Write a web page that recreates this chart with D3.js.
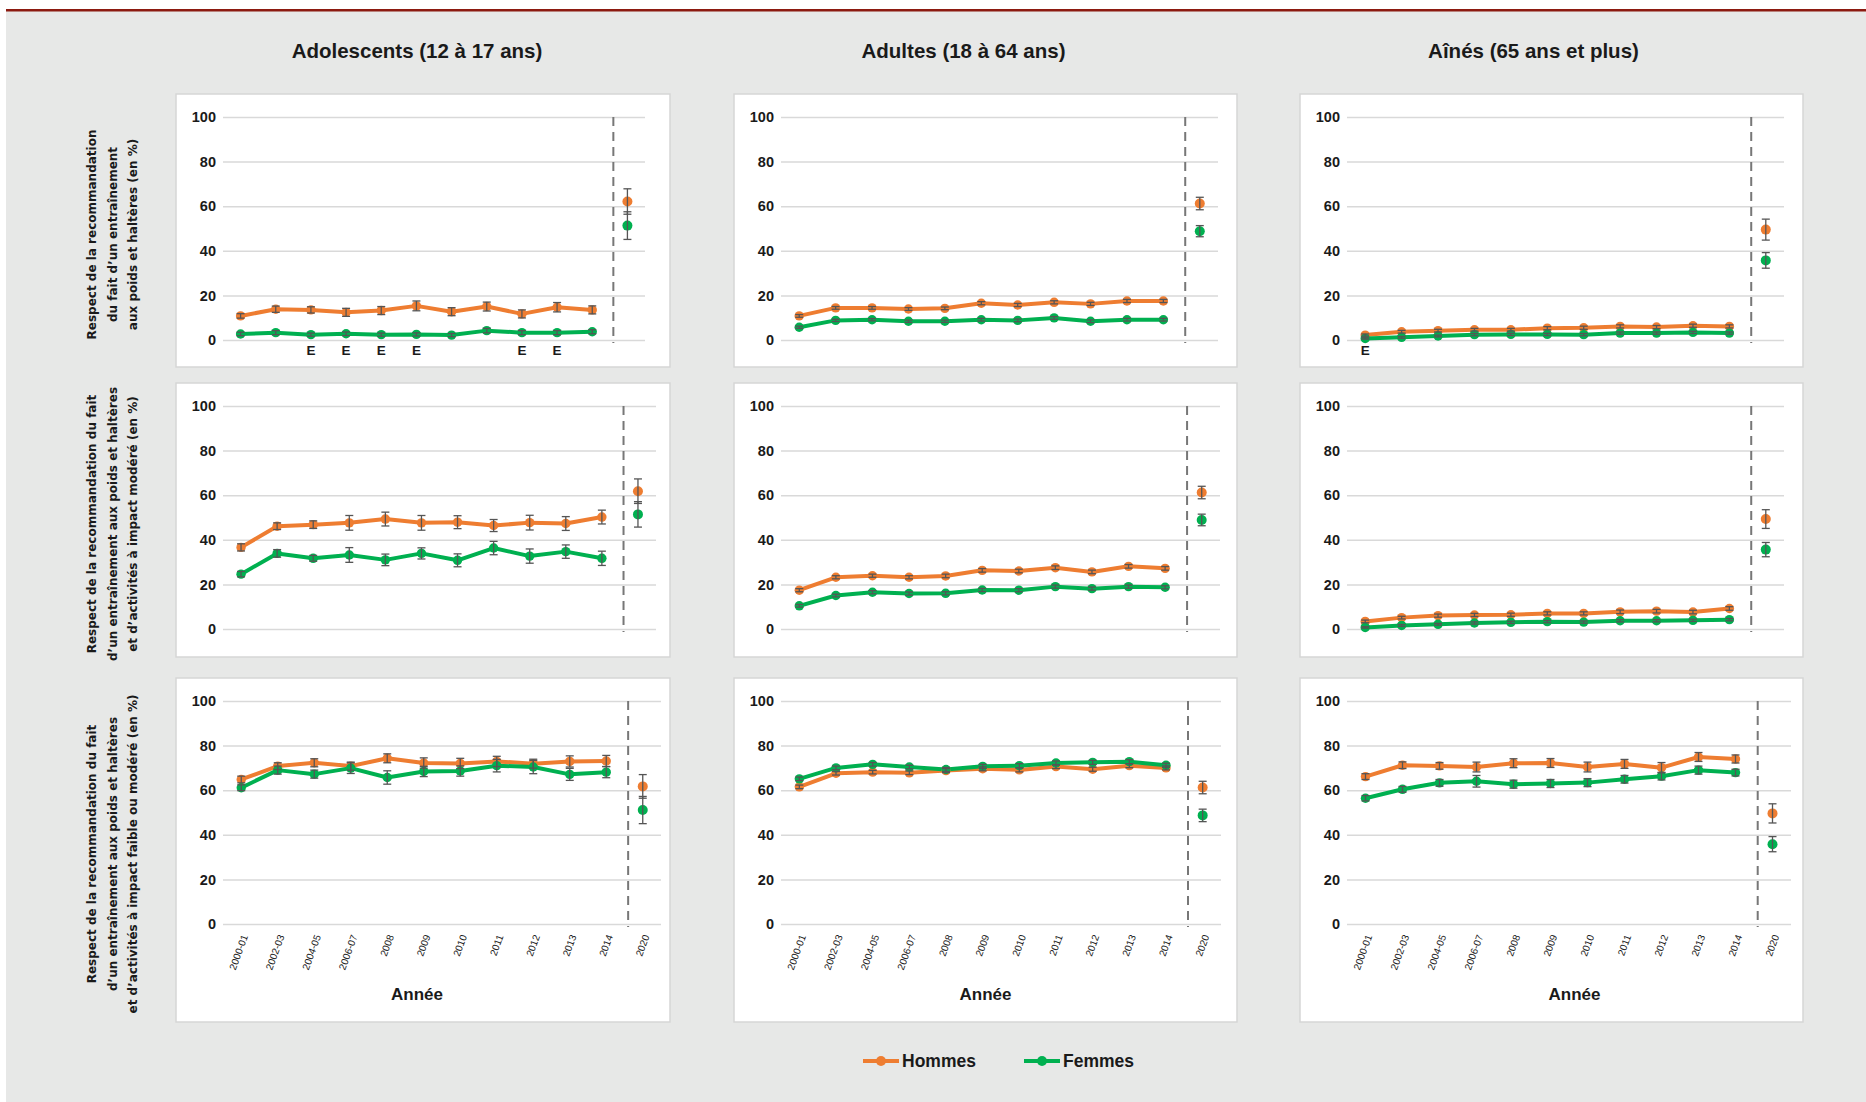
<!DOCTYPE html>
<html>
<head>
<meta charset="utf-8">
<script src="https://cdn.jsdelivr.net/npm/d3@7"></script>
<style>
  body { margin: 0; background: #fff; }
  svg text { font-family: "Liberation Sans", Arial, sans-serif; }
</style>
</head>
<body>
<svg id="chart" width="1866" height="1102"></svg>
<script>
// catégories
const years = ["2000-01", "2002-03", "2004-05", "2006-07", "2008", "2009", "2010", "2011", "2012", "2013", "2014", "2020"];
const groups = ["Adolescents (12 à 17 ans)", "Adultes (18 à 64 ans)", "Aînés (65 ans et plus)"];
const yTitles = [
  ["Respect de la recommandation", "du fait d’un entraînement", "aux poids et haltères (en %)"],
  ["Respect de la recommandation du fait", "d’un entraînement aux poids et haltères", "et d’activités à impact modéré (en %)"],
  ["Respect de la recommandation du fait", "d’un entraînement aux poids et haltères", "et d’activités à impact faible ou modéré (en %)"]
];
const yTicks = [0, 20, 40, 60, 80, 100];
const legendNames = ["Hommes", "Femmes"];

// adolescents
const adoPoidsH = [10.8, 13.8, 13.5, 12.4, 13.2, 15.3, 12.7, 15.0, 11.7, 14.7, 13.5, 62.1];
const adoPoidsHErr = [1.0, 1.4, 1.4, 1.8, 1.8, 2.2, 1.8, 2.0, 1.8, 2.1, 1.8, 5.7];
const adoPoidsF = [2.7, 3.3, 2.4, 2.8, 2.4, 2.5, 2.2, 4.2, 3.3, 3.3, 3.7, 51.3];
const adoPoidsFErr = [0.8, 0.9, 0.7, 0.8, 0.7, 0.7, 0.7, 1.0, 0.9, 0.9, 0.9, 6.2];
const adoPoidsFE = [0, 0, 1, 1, 1, 1, 0, 0, 1, 1, 0, 0];

const adoModH = [36.6, 46.1, 46.8, 47.6, 49.3, 47.6, 47.9, 46.4, 47.7, 47.3, 50.2, 61.8];
const adoModHErr = [1.6, 1.5, 1.7, 3.3, 3.1, 3.3, 2.9, 2.7, 3.3, 3.1, 3.1, 5.5];
const adoModF = [24.6, 33.9, 31.7, 33.2, 31.0, 33.9, 30.8, 36.3, 32.7, 34.7, 31.7, 51.4];
const adoModFErr = [1.2, 1.7, 1.3, 3.3, 2.6, 2.5, 2.9, 3.0, 3.2, 3.0, 3.2, 5.7];

const adoFaibleH = [64.8, 70.8, 72.3, 70.8, 74.3, 72.2, 72.0, 72.9, 71.9, 72.9, 73.1, 61.7];
const adoFaibleHErr = [1.5, 1.5, 1.8, 1.8, 2.0, 2.3, 2.3, 2.3, 2.0, 2.5, 2.5, 5.3];
const adoFaibleF = [61.1, 69.0, 67.2, 69.9, 65.7, 68.4, 68.6, 71.0, 70.4, 67.1, 68.1, 51.1];
const adoFaibleFErr = [1.3, 1.8, 1.8, 2.4, 3.0, 2.3, 2.3, 2.8, 3.0, 2.7, 2.5, 6.1];

// adultes
const aduPoidsH = [10.8, 14.4, 14.4, 13.9, 14.2, 16.5, 15.7, 16.9, 16.2, 17.5, 17.5, 61.2];
const aduPoidsHErr = [0.6, 0.6, 0.6, 0.6, 0.6, 0.7, 0.7, 0.7, 0.7, 0.7, 0.7, 2.8];
const aduPoidsF = [5.7, 8.8, 9.1, 8.4, 8.4, 9.1, 8.8, 9.9, 8.4, 9.1, 9.1, 48.8];
const aduPoidsFErr = [0.5, 0.5, 0.5, 0.5, 0.5, 0.6, 0.6, 0.6, 0.6, 0.6, 0.6, 2.5];

const aduModH = [17.4, 23.2, 23.9, 23.2, 23.8, 26.3, 26.0, 27.5, 25.6, 28.1, 27.2, 61.2];
const aduModHErr = [0.7, 0.7, 0.7, 0.7, 0.8, 0.8, 0.8, 0.8, 0.8, 0.8, 0.8, 2.8];
const aduModF = [10.4, 15.0, 16.5, 15.9, 16.0, 17.5, 17.4, 19.0, 18.1, 19.0, 18.7, 48.9];
const aduModFErr = [0.6, 0.6, 0.7, 0.7, 0.7, 0.7, 0.7, 0.7, 0.7, 0.7, 0.7, 2.6];

const aduFaibleH = [61.5, 67.6, 68.1, 67.8, 68.8, 69.6, 69.1, 70.6, 69.4, 71.0, 70.0, 61.2];
const aduFaibleHErr = [0.8, 0.8, 0.8, 0.8, 0.9, 0.9, 0.9, 0.9, 0.9, 0.9, 0.9, 2.8];
const aduFaibleF = [65.1, 70.0, 71.6, 70.4, 69.3, 70.7, 71.0, 72.2, 72.5, 72.8, 71.2, 48.7];
const aduFaibleFErr = [0.8, 0.8, 0.8, 0.8, 0.9, 0.9, 0.9, 0.9, 0.9, 0.9, 0.9, 2.8];

// aînés
const ainPoidsH = [2.2, 3.7, 4.2, 4.6, 4.6, 5.3, 5.5, 6.1, 5.8, 6.4, 6.1, 49.5];
const ainPoidsHErr = [0.5, 0.6, 0.6, 0.6, 0.6, 0.7, 0.7, 0.7, 0.7, 0.7, 0.7, 4.7];
const ainPoidsF = [0.7, 1.2, 1.8, 2.4, 2.5, 2.5, 2.4, 3.1, 3.1, 3.4, 3.1, 35.7];
const ainPoidsFErr = [0.3, 0.4, 0.4, 0.5, 0.5, 0.5, 0.5, 0.5, 0.5, 0.5, 0.5, 3.5];
const ainPoidsFE = [1, 0, 0, 0, 0, 0, 0, 0, 0, 0, 0, 0];

const ainModH = [3.4, 5.1, 6.0, 6.3, 6.4, 7.0, 7.0, 7.7, 8.0, 7.6, 9.2, 49.3];
const ainModHErr = [0.6, 0.6, 0.7, 0.7, 0.7, 0.7, 0.7, 0.8, 0.8, 0.8, 0.8, 4.2];
const ainModF = [0.7, 1.6, 2.1, 2.7, 3.0, 3.3, 3.1, 3.7, 3.7, 3.9, 4.2, 35.6];
const ainModFErr = [0.3, 0.4, 0.4, 0.5, 0.5, 0.5, 0.5, 0.5, 0.5, 0.5, 0.5, 3.2];

const ainFaibleH = [66.1, 71.2, 70.9, 70.4, 72.1, 72.2, 70.4, 71.8, 70.1, 74.9, 74.0, 49.6];
const ainFaibleHErr = [1.3, 1.5, 1.5, 2.2, 2.0, 2.0, 2.2, 2.0, 2.3, 2.0, 1.8, 4.3];
const ainFaibleF = [56.4, 60.4, 63.3, 64.0, 62.7, 63.0, 63.4, 64.9, 66.3, 69.0, 67.9, 35.8];
const ainFaibleFErr = [1.2, 1.3, 1.5, 2.6, 1.8, 1.8, 1.8, 1.7, 1.7, 1.8, 1.5, 3.4];

const colors = { H: "#ee7d31", F: "#00b050" };

// table des panneaux : [ligne][colonne]
const panels = [
  [
    { h: adoPoidsH, hErr: adoPoidsHErr, f: adoPoidsF, fErr: adoPoidsFErr, fE: adoPoidsFE },
    { h: aduPoidsH, hErr: aduPoidsHErr, f: aduPoidsF, fErr: aduPoidsFErr },
    { h: ainPoidsH, hErr: ainPoidsHErr, f: ainPoidsF, fErr: ainPoidsFErr, fE: ainPoidsFE }
  ],
  [
    { h: adoModH, hErr: adoModHErr, f: adoModF, fErr: adoModFErr },
    { h: aduModH, hErr: aduModHErr, f: aduModF, fErr: aduModFErr },
    { h: ainModH, hErr: ainModHErr, f: ainModF, fErr: ainModFErr }
  ],
  [
    { h: adoFaibleH, hErr: adoFaibleHErr, f: adoFaibleF, fErr: adoFaibleFErr },
    { h: aduFaibleH, hErr: aduFaibleHErr, f: aduFaibleF, fErr: aduFaibleFErr },
    { h: ainFaibleH, hErr: ainFaibleHErr, f: ainFaibleF, fErr: ainFaibleFErr }
  ]
];

const W = 1866, H = 1102;
const colX = [[176, 670], [734, 1237], [1300, 1803]];
const rowY = [[94, 367], [383, 657], [678, 1022]];
// marge droite de la zone de tracé, par panneau
const rightPad = [[25, 19, 19], [14, 17, 19], [9, 16, 12]];
const titleDx = [-6, -22, -18];
const anneeDx = [-6, 0, 23];

const svg = d3.select("#chart");

svg.append("rect").attr("x", 6).attr("y", 11).attr("width", W - 6).attr("height", H - 11).attr("fill", "#e7e8e7");
svg.append("rect").attr("x", 6).attr("y", 9).attr("width", W - 6).attr("height", 2.5).attr("fill", "#8c1a10");

// titres de colonnes
groups.forEach((t, c) => {
  svg.append("text")
    .attr("x", (colX[c][0] + colX[c][1]) / 2 + titleDx[c])
    .attr("y", 58)
    .attr("text-anchor", "middle")
    .attr("font-size", 20.5)
    .attr("font-weight", "bold")
    .attr("fill", "#1a1a1a")
    .text(t);
});

// titres de l'axe y
yTitles.forEach((lines, r) => {
  const cy = (rowY[r][0] + rowY[r][1]) / 2 + 4;
  const t = svg.append("text")
    .attr("transform", `translate(92,${cy}) rotate(-90)`)
    .attr("text-anchor", "middle")
    .attr("font-size", 12)
    .attr("font-weight", "bold")
    .attr("fill", "#1a1a1a")
    .style("font-family", "'DejaVu Sans', sans-serif");
  lines.forEach((l, i) => {
    t.append("tspan").attr("x", 0).attr("y", i * 20.5 + 4).text(l);
  });
});

function drawPanel(p, r, c) {
  const px = colX[c][0], pw = colX[c][1] - px;
  const py = rowY[r][0], ph = rowY[r][1] - py;
  const g = svg.append("g");

  g.append("rect")
    .attr("x", px).attr("y", py).attr("width", pw).attr("height", ph)
    .attr("fill", "#fff").attr("stroke", "#d6d6d6").attr("stroke-width", 1.5);

  const x = d3.scalePoint().domain(years).range([px + 47, px + pw - rightPad[r][c]]).padding(0.5);
  const y = d3.scaleLinear().domain([0, 100]).range([py + 23 + 223, py + 23]);
  const [gx0, gx1] = x.range();

  const yAxis = d3.axisLeft(y).tickValues(yTicks).tickSize(-(gx1 - gx0)).tickPadding(7);
  const ga = g.append("g").attr("transform", `translate(${gx0},0)`).call(yAxis);
  ga.select(".domain").remove();
  ga.selectAll(".tick line").attr("stroke", "#d9d9d9").attr("stroke-width", 1.5);
  ga.selectAll(".tick text")
    .attr("font-size", 14.5).attr("font-weight", "bold").attr("fill", "#1a1a1a")
    .style("font-family", "'Liberation Sans', Arial, sans-serif");

  if (r === 2) {
    const xAxis = d3.axisBottom(x).tickSize(0);
    const gb = g.append("g").attr("transform", `translate(0,${y(0)})`).call(xAxis);
    gb.select(".domain").remove();
    gb.selectAll(".tick text")
      .attr("y", 0).attr("dy", "0.35em")
      .attr("text-anchor", "end")
      .attr("transform", "translate(3,11) rotate(-70)")
      .attr("font-size", 10).attr("fill", "#222")
      .style("font-family", "'Liberation Sans', Arial, sans-serif");
    g.append("text")
      .attr("x", px + pw / 2 + anneeDx[c]).attr("y", 1000)
      .attr("text-anchor", "middle")
      .attr("font-size", 17).attr("font-weight", "bold").attr("fill", "#1a1a1a")
      .text("Année");
  }

  // ligne pointillée avant 2020
  const dx = x("2014") + x.step() * 0.6;
  g.append("line")
    .attr("x1", dx).attr("x2", dx)
    .attr("y1", y(100)).attr("y2", y(0) + 3)
    .attr("stroke", "#777").attr("stroke-width", 2)
    .attr("stroke-dasharray", "9,6");

  const line = d3.line().x((d, i) => x(years[i])).y(d => y(d));
  const series = [
    { key: "H", v: p.h, e: p.hErr },
    { key: "F", v: p.f, e: p.fErr }
  ];

  series.forEach(s => {
    g.append("path")
      .datum(s.v.slice(0, 11))
      .attr("fill", "none")
      .attr("stroke", colors[s.key])
      .attr("stroke-width", 4)
      .attr("stroke-linejoin", "round")
      .attr("d", line);
  });

  series.forEach(s => {
    g.selectAll(null)
      .data(s.v)
      .join("circle")
      .attr("cx", (d, i) => x(years[i]))
      .attr("cy", d => y(d))
      .attr("r", (d, i) => i === 11 ? 5 : 4.7)
      .attr("fill", colors[s.key]);
  });

  series.forEach(s => {
    const eb = g.selectAll(null)
      .data(s.v.map((d, i) => ({ x: x(years[i]), lo: y(d - s.e[i]), hi: y(d + s.e[i]) })))
      .join("g")
      .attr("stroke", "#555")
      .attr("stroke-width", 1.3);
    eb.append("line").attr("x1", d => d.x).attr("x2", d => d.x).attr("y1", d => d.lo).attr("y2", d => d.hi);
    eb.append("line").attr("x1", d => d.x - 4).attr("x2", d => d.x + 4).attr("y1", d => d.lo).attr("y2", d => d.lo);
    eb.append("line").attr("x1", d => d.x - 4).attr("x2", d => d.x + 4).attr("y1", d => d.hi).attr("y2", d => d.hi);
  });

  if (p.fE) {
    g.selectAll(null)
      .data(p.fE.map((d, i) => ({ d, i })).filter(o => o.d))
      .join("text")
      .attr("x", o => x(years[o.i]))
      .attr("y", y(0) + 15)
      .attr("text-anchor", "middle")
      .attr("font-size", 13.5).attr("font-weight", "bold").attr("fill", "#1a1a1a")
      .text("E");
  }
}

panels.forEach((row, r) => row.forEach((p, c) => drawPanel(p, r, c)));

// légende
const lg = svg.append("g");
const legX = [863, 1024];
legendNames.forEach((n, i) => {
  const k = i === 0 ? "H" : "F";
  lg.append("line")
    .attr("x1", legX[i]).attr("x2", legX[i] + 36)
    .attr("y1", 1061).attr("y2", 1061)
    .attr("stroke", colors[k]).attr("stroke-width", 4);
  lg.append("circle").attr("cx", legX[i] + 18).attr("cy", 1061).attr("r", 5).attr("fill", colors[k]);
  lg.append("text")
    .attr("x", legX[i] + 39).attr("y", 1067)
    .attr("font-size", 17.5).attr("font-weight", "bold").attr("fill", "#1a1a1a")
    .text(n);
});
</script>
</body>
</html>
